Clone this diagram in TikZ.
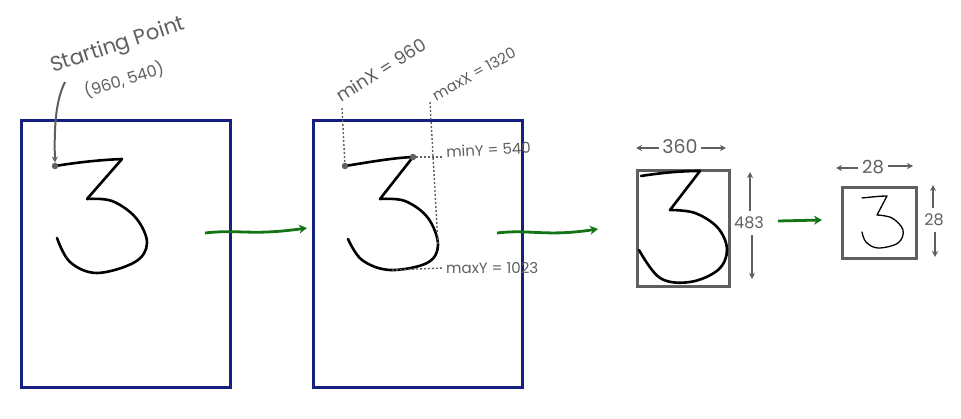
\documentclass[tikz,border=0pt]{standalone}
\usepackage{fontspec}
\setmainfont{Poppins}
\usetikzlibrary{arrows.meta}
\definecolor{navy}{RGB}{22,30,128}
\definecolor{pen}{RGB}{95,95,95}
\definecolor{grn}{RGB}{20,115,20}
\begin{document}
\begin{tikzpicture}[x=1pt,y=-1pt,
  frame/.style={draw=navy,line width=2.8pt},
  gframe/.style={draw=pen,line width=2.8pt},
  digit/.style={draw=black,line width=2.6pt,line cap=round,line join=round},
  lbl/.style={text=pen,inner sep=0pt,font=\fontsize{#1}{#1}\selectfont},
  lbl/.default=16,
  guide/.style={draw=pen,line width=1.4pt,dash pattern=on 2pt off 2pt},
  dot/.style={circle,fill=pen,inner sep=0pt,minimum size=6.5pt},
  dimarrow/.style={draw=pen,line width=1.9pt,-{Stealth[length=6pt,width=6pt]}},
  flow/.style={draw=grn,line width=2.8pt,-{Stealth[length=8pt,width=9pt]}}]
\useasboundingbox (0,0) rectangle (961,419);
% boxes
\node[frame,minimum width=209pt,minimum height=267pt,anchor=north west,inner sep=0pt] (b1) at (20,119) {};
\node[frame,minimum width=209pt,minimum height=267pt,anchor=north west,inner sep=0pt] (b2) at (312,119) {};
\node[gframe,minimum width=92pt,minimum height=116pt,anchor=north west,inner sep=0pt] (b3) at (636,169) {};
\node[gframe,minimum width=74pt,minimum height=71pt,anchor=north west,inner sep=0pt] (b4) at (841,186) {};
% digit 1
\draw[digit] (55,166) .. controls (80,162) and (100,160) .. (122,159) -- (87,199)
  plot[smooth,tension=0.6] coordinates {(87,199) (112,201) (136,218) (147,243) (135,262) (97,273) (70,262) (57,238)};
\node[dot] (s1) at (55,166) {};
% starting point label
\node[lbl=21,rotate=18] (sp) at (118,46) {Starting Point};
\node[lbl=16,rotate=17] (sc) at (124,80) {(960, 540)};
\coordinate (spa) at (65,82);
\draw[draw=pen,line width=2pt,-{Stealth[length=6pt,width=6pt]}] (spa) .. controls (56,100) and (54,125) .. (s1.north);
% digit 2
\draw[digit] (345,166) .. controls (370,162) and (392,158) .. (413,157) -- (380,199)
  plot[smooth,tension=0.6] coordinates {(380,199) (405,201) (428,218) (438,245) (427,263) (390,270) (362,260) (348,239)};
\node[dot] (d1) at (345,166) {};
\node[dot] (d2) at (413,157) {};
% guides
\coordinate (gx1) at (342,108);
\coordinate (gx2) at (430,102);
\coordinate (gx2b) at (438,245);
\coordinate (gy1) at (443,157);
\coordinate (gy2a) at (392,270);
\coordinate (gy2) at (443,268);
\draw[guide] (gx1) -- (d1);
\draw[guide] (gx2) -- (gx2b);
\draw[guide] (d2) -- (gy1);
\draw[guide] (gy2a) -- (gy2);
\node[lbl=18,rotate=32] (mnx) at (381,70) {minX = 960};
\node[lbl=15,rotate=29] (mxx) at (474,74) {maxX = 1320};
\node[lbl=15,anchor=west,rotate=3] (mny) at (446,152) {minY = 540};
\node[lbl=15,anchor=west] (mxy) at (446,268) {maxY = 1023};
% flows
\coordinate (f1a) at (205,233);
\coordinate (f1b) at (307,228);
\coordinate (f2a) at (497,233);
\coordinate (f2b) at (598,229);
\coordinate (f3a) at (778,221);
\coordinate (f3b) at (822,220);
\draw[flow] (f1a) .. controls (240,229) and (250,236) .. (f1b);
\draw[flow] (f2a) .. controls (530,229) and (545,237) .. (f2b);
\draw[flow] (f3a) -- (f3b);
% digit 3
\draw[digit] (641,176) .. controls (660,173) and (680,171) .. (700,171) -- (670,210)
  plot[smooth,tension=0.6] coordinates {(670,210) (695,213) (718,228) (727,250) (718,270) (690,282) (660,278) (639,250)};
% dims 3
\node[lbl=19] (w3) at (680,147) {360};
\coordinate (w3l) at (636,148);
\coordinate (w3r) at (726,148);
\draw[dimarrow] (w3.west) ++(-3,1) -- (w3l);
\draw[dimarrow] (w3.east) ++(3,1) -- (w3r);
\node[lbl=16] (h3) at (749,223) {483};
\coordinate (h3t) at (750,172);
\coordinate (h3b) at (752,279);
\draw[dimarrow] (h3.north) ++(1,-6) -- (h3t);
\draw[dimarrow] (h3.south) ++(3,6) -- (h3b);
% digit 4
\draw[draw=black,line width=1.3pt,line cap=round,line join=round] (862,198) .. controls (872,197) and (880,196) .. (887,196) -- (877,215)
  plot[smooth,tension=0.6] coordinates {(877,215) (892,218) (903,230) (898,243) (878,248) (866,242) (862,232)};
\node[lbl=18] (w4) at (873,167) {28};
\coordinate (w4l) at (836,168);
\coordinate (w4r) at (913,166);
\draw[dimarrow] (w4.west) ++(-4,1) -- (w4l);
\draw[dimarrow] (w4.east) ++(4,-1) -- (w4r);
\node[lbl=16] (h4) at (934,220) {28};
\coordinate (h4t) at (933,185);
\coordinate (h4b) at (935,257);
\draw[dimarrow] (h4.north) ++(-1,-6) -- (h4t);
\draw[dimarrow] (h4.south) ++(1,6) -- (h4b);
\end{tikzpicture}
\end{document}
